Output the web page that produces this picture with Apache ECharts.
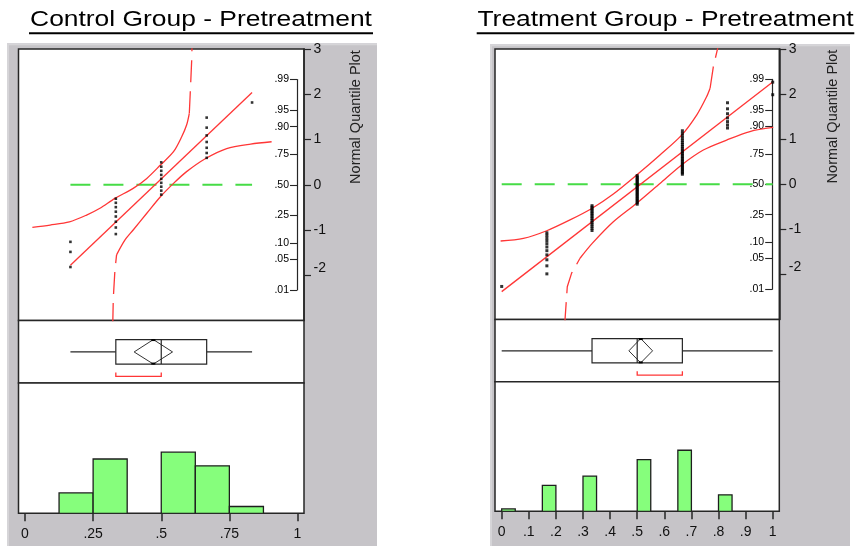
<!DOCTYPE html>
<html><head><meta charset="utf-8">
<script src="https://cdn.jsdelivr.net/npm/echarts@6/dist/echarts.min.js"></script>
<style>html,body{margin:0;padding:0;background:#fff}#c{width:862px;height:546px}</style>
</head><body><div id="c"></div>
<script>
// ================= DATA =================
const titles = ['Control Group - Pretreatment', 'Treatment Group - Pretreatment'];
const quantileAxisName = 'Normal Quantile Plot';
const zTickValues = [3, 2, 1, 0, -1, -2];
const probTickLabels = ['.01', '.05', '.10', '.25', '.50', '.75', '.90', '.95', '.99'];
const probTickZ = [-2.326, -1.645, -1.282, -0.674, 0, 0.674, 1.282, 1.645, 2.326];

// ---- Control group ----
const ctrlLevels = [0.1667, 0.3333, 0.5, 0.6667, 0.8333];
const ctrlScores = [
  [-1.818, -1.484, -1.262],
  [-1.090, -0.945, -0.817, -0.702, -0.595, -0.495, -0.399, -0.308],
  [-0.218, -0.130, -0.043, 0.043, 0.130, 0.218, 0.308, 0.399, 0.495],
  [0.595, 0.702, 0.817, 0.945, 1.090, 1.262, 1.484],
  [1.818]
];
const ctrlFitLine = [[0.1667, -1.78], [0.8333, 2.04]];
const ctrlRefLine = [[0.1667, 0], [0.8333, 0]];
const ctrlUpperBand = [[0.027, -0.94], [0.092, -0.89], [0.163, -0.82], [0.226, -0.67], [0.275, -0.52], [0.330, -0.30], [0.397, -0.08], [0.447, 0.14], [0.497, 0.435], [0.545, 0.73], [0.575, 1.06], [0.593, 1.32], [0.603, 1.58]];
const ctrlUpperTail = [[0.603, 1.58], [0.608, 2.24], [0.612, 2.79], [0.613, 3.1]];
const ctrlLowerTail = [[0.322, -3.1], [0.324, -2.51], [0.330, -1.89], [0.336, -1.55]];
const ctrlLowerBand = [[0.336, -1.55], [0.367, -1.22], [0.397, -1.00], [0.447, -0.63], [0.497, -0.265], [0.545, 0.03], [0.593, 0.29], [0.663, 0.58], [0.740, 0.80], [0.828, 0.90], [0.905, 0.95]];
const ctrlBoxStats = [0.1667, 0.3333, 0.5, 0.6667, 0.8333];   // min, q1, median, q3, max
const ctrlMeanDiamond = [0.471, 0.0705];                        // mean, CI half width
const ctrlShortestHalf = [0.3333, 0.5];
const ctrlHistLo = [0.125, 0.25, 0.5, 0.625, 0.75];
const ctrlHistHi = [0.25, 0.375, 0.625, 0.75, 0.875];
const ctrlHistCounts = [3, 8, 9, 7, 1];
const ctrlXTicks = [0, 0.25, 0.5, 0.75, 1];
const ctrlXLabels = ['0', '.25', '.5', '.75', '1'];

// ---- Treatment group ----
const treatLevels = [0, 0.1667, 0.3333, 0.5, 0.6667, 0.8333, 1];
const treatScores = [
  [-2.265],
  [-1.986, -1.808, -1.674, -1.565, -1.472, -1.390, -1.316, -1.248, -1.187, -1.129, -1.075],
  [-1.024, -0.975, -0.929, -0.884, -0.842, -0.800, -0.760, -0.721, -0.684, -0.647, -0.611, -0.576, -0.541, -0.507, -0.474],
  [-0.441, -0.409, -0.377, -0.346, -0.315, -0.284, -0.253, -0.223, -0.193, -0.163, -0.133, -0.104, -0.074, -0.044, -0.015, 0.015, 0.044, 0.074, 0.104, 0.133, 0.163, 0.193],
  [0.223, 0.253, 0.284, 0.315, 0.346, 0.377, 0.409, 0.441, 0.474, 0.507, 0.541, 0.576, 0.611, 0.647, 0.684, 0.721, 0.760, 0.800, 0.842, 0.884, 0.929, 0.975, 1.024, 1.075, 1.129, 1.187],
  [1.248, 1.316, 1.390, 1.472, 1.565, 1.674, 1.808],
  [1.986, 2.265]
];
const treatFitLine = [[0, -2.38], [1, 2.27]];
const treatRefLine = [[0, 0], [1, 0]];
const treatUpperBand = [[-0.004, -1.257], [0.080, -1.20], [0.166, -1.03], [0.252, -0.79], [0.334, -0.53], [0.412, -0.215], [0.498, 0.205], [0.584, 0.65], [0.664, 1.09], [0.720, 1.54], [0.756, 1.94], [0.769, 2.13]];
const treatUpperTail = [[0.769, 2.13], [0.781, 2.61], [0.796, 2.99], [0.800, 3.1]];
const treatLowerTail = [[0.233, -3.1], [0.234, -2.97], [0.242, -2.27], [0.258, -1.97], [0.289, -1.64]];
const treatLowerBand = [[0.289, -1.64], [0.334, -1.31], [0.412, -0.83], [0.498, -0.42], [0.584, 0.02], [0.664, 0.43], [0.744, 0.76], [0.830, 0.98], [0.916, 1.17], [1.002, 1.26]];
const treatBoxStats = [0, 0.3333, 0.5, 0.6667, 1];
const treatMeanDiamond = [0.513, 0.0437];
const treatShortestHalf = [0.5, 0.6667];
const treatHistLo = [0, 0.15, 0.3, 0.5, 0.65, 0.8];
const treatHistHi = [0.05, 0.2, 0.35, 0.55, 0.7, 0.85];
const treatHistCounts = [1, 11, 15, 22, 26, 7];
const treatXTicks = [0, 0.1, 0.2, 0.3, 0.4, 0.5, 0.6, 0.7, 0.8, 0.9, 1];
const treatXLabels = ['0', '.1', '.2', '.3', '.4', '.5', '.6', '.7', '.8', '.9', '1'];

// ================= LAYOUT / BUILD =================
const FONT = '"Liberation Sans", Arial, sans-serif';
const INK = '#262626';
const RED = '#ff3636';
const GREEN = '#46dc46';
const BAR = '#86fe7c';
const GRAY = '#c6c4c8';

const groups = [
  {levels: ctrlLevels, scores: ctrlScores, fit: ctrlFitLine, ref: ctrlRefLine, upper: ctrlUpperBand, upperTail: ctrlUpperTail, lower: ctrlLowerBand, lowerTail: ctrlLowerTail, box: ctrlBoxStats, diamond: ctrlMeanDiamond, shortest: ctrlShortestHalf, histLo: ctrlHistLo, histHi: ctrlHistHi, histCounts: ctrlHistCounts, xTicks: ctrlXTicks, xLabels: ctrlXLabels, title: titles[0]},
  {levels: treatLevels, scores: treatScores, fit: treatFitLine, ref: treatRefLine, upper: treatUpperBand, upperTail: treatUpperTail, lower: treatLowerBand, lowerTail: treatLowerTail, box: treatBoxStats, diamond: treatMeanDiamond, shortest: treatShortestHalf, histLo: treatHistLo, histHi: treatHistHi, histCounts: treatHistCounts, xTicks: treatXTicks, xLabels: treatXLabels, title: titles[1]}
];
const layouts = [
  {left: 18.5, right: 304, x0: 25, x1: 297.5, qTop: 49, qBot: 320.5, bBot: 383, hBot: 513.3, histMax: 19.2, titleX: 201, ul: [29, 373], nameX: 356, nameY: 117, gray: [7, 43.3, 377], dot: 2.6},
  {left: 495, right: 779.3, x0: 501.7, x1: 772.7, qTop: 49, qBot: 319.6, bBot: 381.7, hBot: 511.3, histMax: 55.2, titleX: 665.5, ul: [476.7, 854.3], nameX: 832.5, nameY: 116.5, gray: [490, 44.3, 850], dot: 3}
];

const grid = [], xAxis = [], yAxis = [], series = [], graphic = [];

function pick(ticks, labels, v) {
  for (let i = 0; i < ticks.length; i++) if (Math.abs(ticks[i] - v) < 1e-6) return labels[i];
  return '';
}

groups.forEach((g, gi) => {
  const L = layouts[gi];
  const unit = L.x1 - L.x0;
  const xMin = -(L.x0 - L.left) / unit, xMax = (L.right - L.x0) / unit;
  const W = L.right - L.left;
  const zUnit = (L.qBot - L.qTop) / 6, zeroY = (L.qTop + L.qBot) / 2;
  const base = grid.length;
  const frame = {show: true, borderColor: INK, borderWidth: 1.5, backgroundColor: '#fff', containLabel: false, outerBoundsMode: 'none'};
  grid.push(Object.assign({left: L.left, top: L.qTop, width: W, height: L.qBot - L.qTop}, frame));
  grid.push(Object.assign({left: L.left, top: L.qBot, width: W, height: L.bBot - L.qBot}, frame));
  grid.push(Object.assign({left: L.left, top: L.bBot, width: W, height: L.hBot - L.bBot}, frame));
  const pTop = zeroY - probTickZ[probTickZ.length - 1] * zUnit, pBot = zeroY - probTickZ[0] * zUnit;
  grid.push({show: false, left: L.left, top: pTop, width: L.x1 - L.left - 0.5, height: pBot - pTop, containLabel: false, outerBoundsMode: 'none'});

  const hiddenX = (idx) => ({type: 'value', gridIndex: idx, min: xMin, max: xMax, show: false});
  xAxis.push(hiddenX(base));
  xAxis.push(hiddenX(base + 1));
  xAxis.push({
    type: 'value', gridIndex: base + 2, min: xMin, max: xMax, position: 'bottom',
    axisLine: {show: false, onZero: false}, splitLine: {show: false},
    axisTick: {show: true, customValues: g.xTicks, length: 8, lineStyle: {color: INK, width: 1.5}},
    axisLabel: {show: true, customValues: g.xTicks, formatter: v => pick(g.xTicks, g.xLabels, v), fontSize: 14, fontFamily: FONT, color: '#111', margin: 14, hideOverlap: false}
  });
  xAxis.push({type: 'value', gridIndex: base + 3, min: 0, max: 1, show: false});

  yAxis.push({
    type: 'value', gridIndex: base, min: -3, max: 3, position: 'right',
    axisLine: {show: true, onZero: false, lineStyle: {color: INK, width: 1.5}},
    axisTick: {show: true, customValues: zTickValues, length: 7, lineStyle: {color: INK, width: 1.2}},
    axisLabel: {show: true, customValues: zTickValues, fontSize: 14, fontFamily: FONT, color: '#111', margin: 9.5, verticalAlignMaxLabel: 'bottom', hideOverlap: false},
    splitLine: {show: false}
  });
  yAxis.push({type: 'value', gridIndex: base + 1, min: 0, max: 1, show: false});
  yAxis.push({type: 'value', gridIndex: base + 2, min: 0, max: L.histMax, show: false});
  yAxis.push({
    type: 'value', gridIndex: base + 3, min: probTickZ[0], max: probTickZ[probTickZ.length - 1], position: 'right',
    axisLine: {show: true, onZero: false, lineStyle: {color: INK, width: 1.2}},
    axisTick: {show: true, inside: true, customValues: probTickZ, length: 7, lineStyle: {color: INK, width: 1.1}},
    axisLabel: {show: true, inside: true, customValues: probTickZ, formatter: v => pick(probTickZ, probTickLabels, v), fontSize: 10.5, fontFamily: FONT, color: '#000', margin: 8, hideOverlap: false},
    splitLine: {show: false}
  });

  // --- quantile plot ---
  const dots = [];
  g.levels.forEach((lv, i) => g.scores[i].forEach(z => dots.push([lv, z])));
  const qLine = (data, color, width, type, smooth) => ({
    type: 'line', xAxisIndex: base, yAxisIndex: base, data, symbol: 'none', showSymbol: false,
    smooth: smooth, clip: true, silent: true, animation: false, z: 4,
    lineStyle: {color, width, type}
  });
  series.push(qLine(g.ref, GREEN, 2, [20, 13], false));
  series.push(qLine(g.upper, RED, 1.3, 'solid', 0.3));
  series.push(qLine(g.upperTail, RED, 1.3, [22, 9], false));
  series.push(qLine(g.lower, RED, 1.3, 'solid', 0.3));
  series.push(qLine(g.lowerTail, RED, 1.3, [22, 9], false));
  series.push(qLine(g.fit, RED, 1.3, 'solid', false));
  series.push({type: 'scatter', xAxisIndex: base, yAxisIndex: base, data: dots, symbol: 'rect', symbolSize: L.dot, itemStyle: {color: '#000'}, silent: true, animation: false, z: 6});

  // --- box plot ---
  series.push({
    type: 'custom', xAxisIndex: base + 1, yAxisIndex: base + 1, silent: true, animation: false, clip: false, z: 5,
    data: [[...g.box, ...g.diamond, ...g.shortest]],
    renderItem: (params, api) => {
      const v = [0, 1, 2, 3, 4, 5, 6, 7, 8].map(i => api.value(i));
      const X = val => api.coord([val, 0.5])[0];
      const Y = f => api.coord([0, f])[1];
      const yt = Y(0.695), yb = Y(0.303), ym = Y(0.497), yr = Y(0.105), yr2 = Y(0.168);
      const st = {stroke: INK, lineWidth: 1.2, fill: null};
      const mean = v[5], half = v[6];
      return {type: 'group', children: [
        {type: 'line', shape: {x1: X(v[0]), y1: ym, x2: X(v[1]), y2: ym}, style: st},
        {type: 'line', shape: {x1: X(v[3]), y1: ym, x2: X(v[4]), y2: ym}, style: st},
        {type: 'rect', shape: {x: X(v[1]), y: yt, width: X(v[3]) - X(v[1]), height: yb - yt}, style: {stroke: INK, lineWidth: 1.2, fill: '#fff'}},
        {type: 'polygon', shape: {points: [[X(mean - half), ym], [X(mean), yt], [X(mean + half), ym], [X(mean), yb]]}, style: {stroke: '#333', lineWidth: 1, fill: null}},
        {type: 'line', shape: {x1: X(v[2]), y1: yt, x2: X(v[2]), y2: yb}, style: st},
        {type: 'rect', shape: {x: X(mean) - 2, y: yt - 0.5, width: 4, height: 2}, style: {fill: '#000'}},
        {type: 'rect', shape: {x: X(mean) - 2, y: yb - 1.5, width: 4, height: 2}, style: {fill: '#000'}},
        {type: 'polyline', shape: {points: [[X(v[7]), yr2], [X(v[7]), yr], [X(v[8]), yr], [X(v[8]), yr2]]}, style: {stroke: RED, lineWidth: 1.3, fill: null}}
      ]};
    }
  });

  // --- histogram ---
  const hist = g.histLo.map((lo, i) => [lo, g.histHi[i], g.histCounts[i]]);
  series.push({
    type: 'custom', xAxisIndex: base + 2, yAxisIndex: base + 2, silent: true, animation: false, clip: true, z: 5,
    data: hist,
    renderItem: (params, api) => {
      const p0 = api.coord([api.value(0), api.value(2)]);
      const p1 = api.coord([api.value(1), 0]);
      return {type: 'rect', shape: {x: p0[0], y: p0[1], width: p1[0] - p0[0], height: p1[1] - p0[1]}, style: {fill: BAR, stroke: '#1e1e1e', lineWidth: 1.3}};
    }
  });

  // --- decorations ---
  graphic.push({type: 'rect', z: -10, silent: true, shape: {x: L.gray[0], y: L.gray[1], width: L.gray[2] - L.gray[0], height: 546 - L.gray[1]}, style: {fill: GRAY}});
  graphic.push({type: 'rect', z: -9, silent: true, shape: {x: L.gray[0], y: L.gray[1], width: L.gray[2] - L.gray[0], height: 2}, style: {fill: '#d6d5d8'}});
  graphic.push({type: 'rect', z: -9, silent: true, shape: {x: L.gray[0], y: L.gray[1], width: 2, height: 546 - L.gray[1]}, style: {fill: '#d6d5d8'}});
  graphic.push({type: 'text', z: 10, silent: true, x: L.titleX, y: 20, scaleX: 1.2, scaleY: 1,
    style: {text: g.title, font: '22px ' + FONT, fill: '#000', align: 'center', verticalAlign: 'middle', textAlign: 'center', textVerticalAlign: 'middle'}});
  graphic.push({type: 'line', z: 10, silent: true, shape: {x1: L.ul[0], y1: 33.3, x2: L.ul[1], y2: 33.3}, style: {stroke: '#000', lineWidth: 2}});
  graphic.push({type: 'text', z: 10, silent: true, x: L.nameX, y: L.nameY, rotation: Math.PI / 2,
    style: {text: quantileAxisName, font: '14.5px ' + FONT, fill: '#222', align: 'center', verticalAlign: 'middle', textAlign: 'center', textVerticalAlign: 'middle'}});
});

const chart = echarts.init(document.getElementById('c'), null, {renderer: 'canvas', width: 862, height: 546});
chart.setOption({
  animation: false,
  backgroundColor: '#fff',
  grid, xAxis, yAxis, series, graphic
});
</script>
</body></html>
